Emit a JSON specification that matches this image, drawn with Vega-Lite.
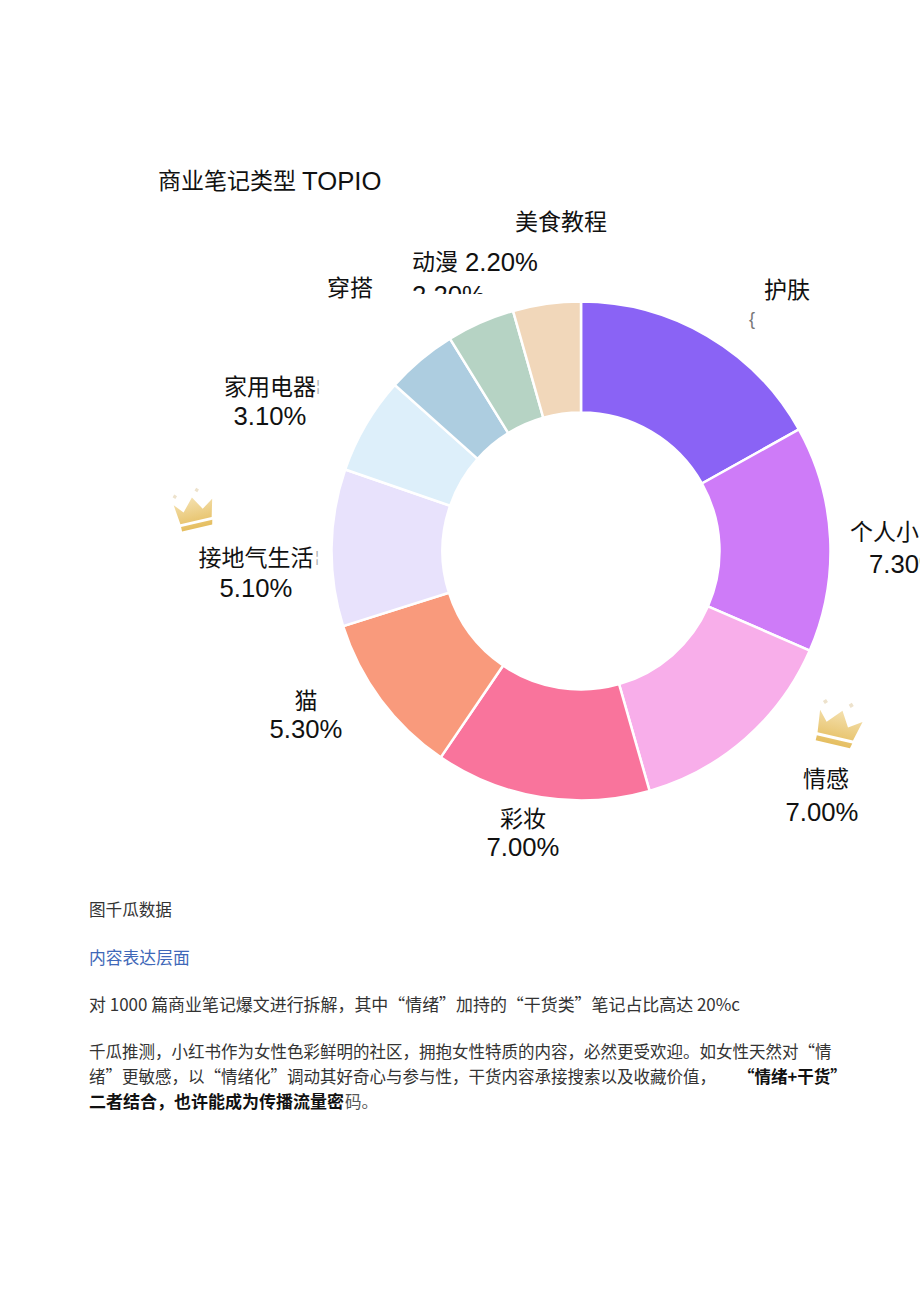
{"$schema":"https://vega.github.io/schema/vega-lite/v6.json","width":920,"height":1301,"autosize":{"type":"fit","contains":"padding"},"padding":0,"background":"#ffffff","config":{"view":{"stroke":null},"text":{"font":"Liberation Sans, Noto Sans CJK SC","fill":"#111111"}},
"datasets":{"slices":[
{"i":1,"name":"护肤","value":8.43,"pct":""},
{"i":2,"name":"个人小","value":7.3,"pct":"7.30%"},
{"i":3,"name":"情感","value":7.0,"pct":"7.00%"},
{"i":4,"name":"彩妆","value":6.95,"pct":"7.00%"},
{"i":5,"name":"猫","value":5.3,"pct":"5.30%"},
{"i":6,"name":"接地气生活","value":5.07,"pct":"5.10%"},
{"i":7,"name":"家用电器","value":3.14,"pct":"3.10%"},
{"i":8,"name":"穿搭","value":2.3,"pct":""},
{"i":9,"name":"动漫","value":2.2,"pct":"2.20%"},
{"i":10,"name":"美食教程","value":2.19,"pct":""}],
"copy":[
{"id":"title","t":"商业笔记类型"},
{"id":"title2","t":"TOPIO"},
{"id":"src","t":"图千瓜数据"},
{"id":"head","t":"内容表达层面"},
{"id":"l1","t":"对 1000 篇商业笔记爆文进行拆解，其中“情绪”加持的“干货类”笔记占比高达 20%c"},
{"id":"l2","t":"千瓜推测，小红书作为女性色彩鲜明的社区，拥抱女性特质的内容，必然更受欢迎。如女性天然对“情"},
{"id":"l3","t":"绪”更敏感，以“情绪化”调动其好奇心与参与性，干货内容承接搜索以及收藏价值，"},
{"id":"l3b","t":"“情绪+干货”"},
{"id":"l4b","t":"二者结合，也许能成为传播流量密"},
{"id":"l4","t":"码。"},
{"id":"n1","t":"{"},
{"id":"n2","t":"¦"},
{"id":"n3","t":"¦"}]},
"data":{"name":"slices"},
"layer":[
{"transform":[{"filter":"datum.i==9"}],"mark":{"type":"text","x":412,"y":296,"align":"left","baseline":"middle","fontSize":25.7},"encoding":{"text":{"field":"pct"}}},
{"data":{"values":[{"mask":"穿搭下方"}]},"mark":{"type":"rect","x":405,"x2":495,"y":294,"y2":312,"fill":"#ffffff"},"encoding":{}},
{"mark":{"type":"arc","x":581,"y":551,"innerRadius":138.5,"outerRadius":249.5,"stroke":"#ffffff","strokeWidth":2.5},"encoding":{"theta":{"field":"value","type":"quantitative","stack":true,"scale":{"domain":[0,49.88],"range":[0,6.2832]}},"order":{"field":"i"},"color":{"field":"name","type":"nominal","legend":null,"scale":{"domain":["护肤","个人小","情感","彩妆","猫","接地气生活","家用电器","穿搭","动漫","美食教程"],"range":["#8A63F5","#CE7BF8","#F8AEEA","#F9749C","#F99A7C","#E8E2FC","#DDEFFA","#ADCDE0","#B6D3C4","#F1D7BA"]}}}},
{"data":{"name":"copy"},"transform":[{"filter":"datum.id=='title'"}],"mark":{"type":"text","x":158,"y":182,"align":"left","baseline":"middle","fontSize":23},"encoding":{"text":{"field":"t"}}},
{"data":{"name":"copy"},"transform":[{"filter":"datum.id=='title2'"}],"mark":{"type":"text","x":302,"y":182,"align":"left","baseline":"middle","fontSize":25.7},"encoding":{"text":{"field":"t"}}},
{"transform":[{"filter":"datum.i==1"}],"mark":{"type":"text","x":787,"y":291,"baseline":"middle","fontSize":23},"encoding":{"text":{"field":"name"}}},
{"transform":[{"filter":"datum.i==2"}],"mark":{"type":"text","x":850,"y":533,"align":"left","baseline":"middle","fontSize":23},"encoding":{"text":{"field":"name"}}},
{"transform":[{"filter":"datum.i==2"}],"mark":{"type":"text","x":869,"y":565,"align":"left","baseline":"middle","fontSize":25.7},"encoding":{"text":{"field":"pct"}}},
{"transform":[{"filter":"datum.i==3"}],"mark":{"type":"text","x":826,"y":780,"baseline":"middle","fontSize":23},"encoding":{"text":{"field":"name"}}},
{"transform":[{"filter":"datum.i==3"}],"mark":{"type":"text","x":822,"y":813,"baseline":"middle","fontSize":25.7},"encoding":{"text":{"field":"pct"}}},
{"transform":[{"filter":"datum.i==4"}],"mark":{"type":"text","x":523,"y":820,"baseline":"middle","fontSize":23},"encoding":{"text":{"field":"name"}}},
{"transform":[{"filter":"datum.i==4"}],"mark":{"type":"text","x":523,"y":848,"baseline":"middle","fontSize":25.7},"encoding":{"text":{"field":"pct"}}},
{"transform":[{"filter":"datum.i==5"}],"mark":{"type":"text","x":306,"y":702,"baseline":"middle","fontSize":23},"encoding":{"text":{"field":"name"}}},
{"transform":[{"filter":"datum.i==5"}],"mark":{"type":"text","x":306,"y":730,"baseline":"middle","fontSize":25.7},"encoding":{"text":{"field":"pct"}}},
{"transform":[{"filter":"datum.i==6"}],"mark":{"type":"text","x":256,"y":559,"baseline":"middle","fontSize":23},"encoding":{"text":{"field":"name"}}},
{"transform":[{"filter":"datum.i==6"}],"mark":{"type":"text","x":256,"y":589,"baseline":"middle","fontSize":25.7},"encoding":{"text":{"field":"pct"}}},
{"transform":[{"filter":"datum.i==7"}],"mark":{"type":"text","x":270,"y":388,"baseline":"middle","fontSize":23},"encoding":{"text":{"field":"name"}}},
{"transform":[{"filter":"datum.i==7"}],"mark":{"type":"text","x":270,"y":417,"baseline":"middle","fontSize":25.7},"encoding":{"text":{"field":"pct"}}},
{"transform":[{"filter":"datum.i==8"}],"mark":{"type":"text","x":350,"y":289,"baseline":"middle","fontSize":23},"encoding":{"text":{"field":"name"}}},
{"transform":[{"filter":"datum.i==9"}],"mark":{"type":"text","x":412,"y":263,"align":"left","baseline":"middle","fontSize":23},"encoding":{"text":{"field":"name"}}},
{"transform":[{"filter":"datum.i==9"}],"mark":{"type":"text","x":465,"y":263,"align":"left","baseline":"middle","fontSize":25.7},"encoding":{"text":{"field":"pct"}}},
{"transform":[{"filter":"datum.i==10"}],"mark":{"type":"text","x":561,"y":223,"baseline":"middle","fontSize":23},"encoding":{"text":{"field":"name"}}},
{"data":{"name":"copy"},"transform":[{"filter":"datum.id=='src'"}],"mark":{"type":"text","x":89,"y":911,"align":"left","baseline":"middle","fontSize":16.6,"font":"Noto Sans CJK SC","fill":"#333333"},"encoding":{"text":{"field":"t"}}},
{"data":{"name":"copy"},"transform":[{"filter":"datum.id=='head'"}],"mark":{"type":"text","x":89,"y":959,"align":"left","baseline":"middle","fontSize":16.8,"font":"Noto Sans CJK SC","fill":"#3F68B8"},"encoding":{"text":{"field":"t"}}},
{"data":{"name":"copy"},"transform":[{"filter":"datum.id=='l1'"}],"mark":{"type":"text","x":89,"y":1006,"align":"left","baseline":"middle","fontSize":16.95,"font":"Noto Sans CJK SC","fill":"#333333"},"encoding":{"text":{"field":"t"}}},
{"data":{"name":"copy"},"transform":[{"filter":"datum.id=='l2'"}],"mark":{"type":"text","x":89,"y":1053,"align":"left","baseline":"middle","fontSize":16.5,"font":"Noto Sans CJK SC","fill":"#333333"},"encoding":{"text":{"field":"t"}}},
{"data":{"name":"copy"},"transform":[{"filter":"datum.id=='l3'"}],"mark":{"type":"text","x":89,"y":1078,"align":"left","baseline":"middle","fontSize":16.5,"font":"Noto Sans CJK SC","fill":"#333333"},"encoding":{"text":{"field":"t"}}},
{"data":{"name":"copy"},"transform":[{"filter":"datum.id=='l3b'"}],"mark":{"type":"text","x":738,"y":1078,"align":"left","baseline":"middle","fontSize":16.5,"font":"Noto Sans CJK SC","fontWeight":"bold","fill":"#111111"},"encoding":{"text":{"field":"t"}}},
{"data":{"name":"copy"},"transform":[{"filter":"datum.id=='l4b'"}],"mark":{"type":"text","x":89,"y":1103,"align":"left","baseline":"middle","fontSize":17,"font":"Noto Sans CJK SC","fontWeight":"bold","fill":"#111111"},"encoding":{"text":{"field":"t"}}},
{"data":{"name":"copy"},"transform":[{"filter":"datum.id=='l4'"}],"mark":{"type":"text","x":345,"y":1103,"align":"left","baseline":"middle","fontSize":16.5,"font":"Noto Sans CJK SC","fill":"#555555"},"encoding":{"text":{"field":"t"}}},
{"data":{"name":"copy"},"transform":[{"filter":"datum.id=='n1'"}],"mark":{"type":"text","x":752,"y":320,"baseline":"middle","fontSize":18,"fill":"#777777"},"encoding":{"text":{"field":"t"}}},
{"data":{"name":"copy"},"transform":[{"filter":"datum.id=='n2'"}],"mark":{"type":"text","x":318,"y":387,"baseline":"middle","fontSize":14,"fill":"#aaaaaa"},"encoding":{"text":{"field":"t"}}},
{"data":{"name":"copy"},"transform":[{"filter":"datum.id=='n3'"}],"mark":{"type":"text","x":317,"y":558,"baseline":"middle","fontSize":14,"fill":"#aaaaaa"},"encoding":{"text":{"field":"t"}}},
{"data":{"values":[{"crown":"接地气生活"}]},"mark":{"type":"point","filled":true,"opacity":1,"x":195,"y":511,"size":2100,"angle":-13,"fill":{"gradient":"linear","x1":0,"y1":0,"x2":0,"y2":1,"stops":[{"offset":0,"color":"#F4E0AE"},{"offset":1,"color":"#E5BE60"}]},"shape":"M-0.85,-0.45 L-0.5,-0.05 L0,-0.6 L0.35,-0.02 L0.85,-0.35 L0.65,0.42 L-0.75,0.42 Z M-0.75,0.54 L0.65,0.54 L0.6,0.74 L-0.75,0.74 Z"},"encoding":{}},
{"data":{"values":[{"crown":"情感"}]},"mark":{"type":"point","filled":true,"opacity":1,"x":839,"y":726,"size":2700,"angle":13,"fill":{"gradient":"linear","x1":0,"y1":0,"x2":0,"y2":1,"stops":[{"offset":0,"color":"#F4E0AE"},{"offset":1,"color":"#E5BE60"}]},"shape":"M-0.85,-0.45 L-0.5,-0.05 L0,-0.6 L0.35,-0.02 L0.85,-0.35 L0.65,0.42 L-0.75,0.42 Z M-0.75,0.54 L0.65,0.54 L0.6,0.74 L-0.75,0.74 Z"},"encoding":{}},
{"data":{"values":[{"crown":"接地气生活"}]},"mark":{"type":"point","filled":true,"opacity":1,"x":195,"y":511,"size":2100,"angle":-13,"fill":"#EDE2CC","shape":"M-0.72,-0.9 L-0.62,-0.8 L-0.72,-0.7 L-0.82,-0.8 Z M0.28,-0.98 L0.38,-0.88 L0.28,-0.78 L0.18,-0.88 Z"},"encoding":{}},
{"data":{"values":[{"crown":"情感"}]},"mark":{"type":"point","filled":true,"opacity":1,"x":839,"y":726,"size":2700,"angle":13,"fill":"#EDE2CC","shape":"M-0.72,-0.9 L-0.62,-0.8 L-0.72,-0.7 L-0.82,-0.8 Z M0.28,-0.98 L0.38,-0.88 L0.28,-0.78 L0.18,-0.88 Z"},"encoding":{}}
]}
